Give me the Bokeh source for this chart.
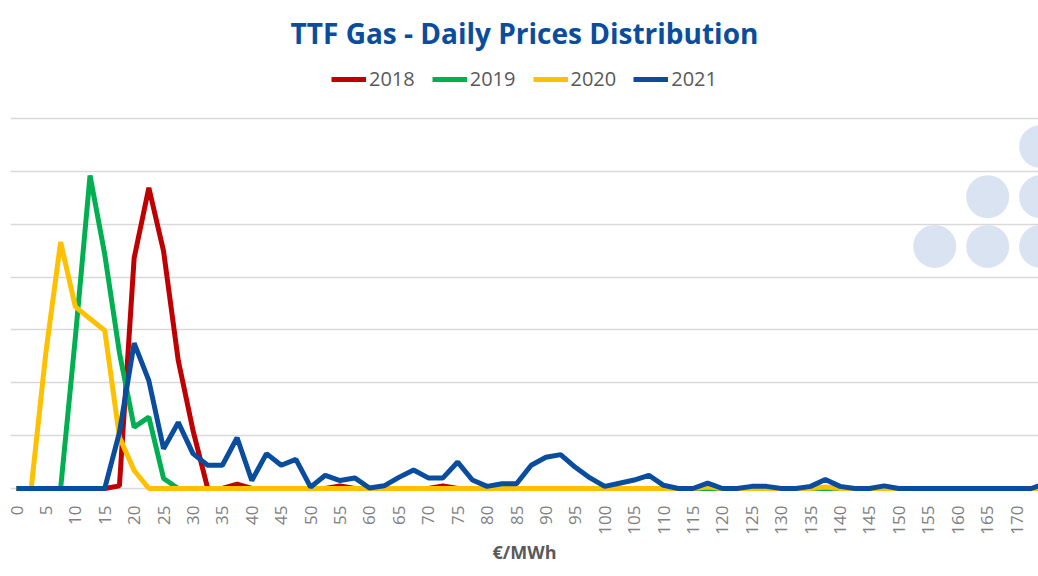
import math
from bokeh.plotting import figure
from bokeh.models import Range1d, FixedTicker, Legend, LegendItem
from bokeh.embed import file_html
from bokeh.resources import INLINE

# Price bins (EUR/MWh), step 2.5
prices = [0, 2.5, 5, 7.5, 10, 12.5, 15, 17.5, 20, 22.5, 25, 27.5, 30, 32.5, 35, 37.5,
          40, 42.5, 45, 47.5, 50, 52.5, 55, 57.5, 60, 62.5, 65, 67.5, 70, 72.5, 75, 77.5,
          80, 82.5, 85, 87.5, 90, 92.5, 95, 97.5, 100, 102.5, 105, 107.5, 110, 112.5, 115,
          117.5, 120, 122.5, 125, 127.5, 130, 132.5, 135, 137.5, 140, 142.5, 145, 147.5,
          150, 152.5, 155, 157.5, 160, 162.5, 165, 167.5, 170, 172.5, 175]

y2018 = [0, 0, 0, 0, 0, 0, 0, 0.5, 43.6, 56.9, 44.9, 24.2, 11.0, 0, 0, 0.8,
         0, 0, 0, 0, 0, 0, 0.5, 0, 0, 0, 0, 0, 0, 0.5, 0, 0,
         0, 0, 0, 0, 0, 0, 0, 0, 0, 0, 0, 0, 0, 0, 0,
         0, 0, 0, 0, 0, 0, 0, 0, 0, 0, 0, 0, 0,
         0, 0, 0, 0, 0, 0, 0, 0, 0, 0, 0]

y2019 = [0, 0, 0, 0, 28.5, 59.2, 44.3, 25.7, 11.6, 13.5, 1.9, 0, 0, 0, 0, 0,
         0, 0, 0, 0, 0, 0, 0, 0, 0, 0, 0, 0, 0, 0, 0, 0,
         0, 0, 0, 0, 0, 0, 0, 0, 0, 0, 0, 0, 0, 0, 0,
         0, 0, 0, 0, 0, 0, 0, 0, 0, 0, 0, 0, 0,
         0, 0, 0, 0, 0, 0, 0, 0, 0, 0, 0]

y2020 = [0, 0, 25.8, 46.6, 34.4, 32.1, 29.9, 9.7, 3.4, 0, 0, 0, 0, 0, 0, 0,
         0, 0, 0, 0, 0, 0, 0, 0, 0, 0, 0, 0, 0, 0, 0, 0,
         0, 0, 0, 0, 0, 0, 0, 0, 0, 0, 0, 0, 0, 0, 0,
         0.3, 0, 0, 0, 0, 0, 0, 0, 0.3, 0, 0, 0, 0,
         0, 0, 0, 0, 0, 0, 0, 0, 0, 0, 0]

y2021 = [0, 0, 0, 0, 0, 0, 0, 10.6, 27.5, 20.4, 7.5, 12.5, 6.6, 4.4, 4.4, 9.6,
         1.5, 6.6, 4.4, 5.5, 0.25, 2.5, 1.5, 2.0, 0.1, 0.5, 2.1, 3.5, 2.0, 2.0, 5.0, 1.6,
         0.4, 0.9, 0.9, 4.4, 5.9, 6.4, 4.0, 2.0, 0.4, 1.0, 1.6, 2.5, 0.6, 0, 0,
         1.0, 0, 0, 0.4, 0.4, 0, 0, 0.4, 1.7, 0.4, 0, 0, 0.5,
         0, 0, 0, 0, 0, 0, 0, 0, 0, 0, 1.0]

series_names = ["2018", "2019", "2020", "2021"]
series_values = [y2018, y2019, y2020, y2021]
series_colors = ["#c00000", "#00b050", "#ffc000", "#0a4d9e"]

x_ticks = [0, 5, 10, 15, 20, 25, 30, 35, 40, 45, 50, 55, 60, 65, 70, 75, 80, 85,
           90, 95, 100, 105, 110, 115, 120, 125, 130, 135, 140, 145, 150, 155, 160,
           165, 170]
y_grid = [0, 10, 20, 30, 40, 50, 60, 70]

# decorative watermark dots (upper right)
dots_x = [156.1, 165.1, 174.1, 165.1, 174.1, 174.1]
dots_y = [45.8, 45.8, 45.8, 55.2, 55.2, 64.7]

p = figure(output_backend="svg", toolbar_location=None,
           width=1038, height=576,
           x_range=Range1d(-1.02, 173.74), y_range=Range1d(-0.57, 80.97),
           min_border_left=10, min_border_right=0, min_border_top=60,
           min_border_bottom=85)

p.outline_line_color = None
p.yaxis.visible = False
p.xgrid.visible = False
p.ygrid.ticker = FixedTicker(ticks=y_grid)
p.ygrid.grid_line_color = "#d9d9d9"
p.ygrid.grid_line_width = 1.5

p.scatter(dots_x, dots_y, size=43, fill_color="#dae3f1", line_color=None)

items = []
for name, vals, col in zip(series_names, series_values, series_colors):
    r = p.line(prices, vals, line_color=col, line_width=5)
    items.append(LegendItem(label=name, renderers=[r]))

ax = p.xaxis[0]
ax.ticker = FixedTicker(ticks=x_ticks)
ax.major_label_orientation = math.pi / 2
ax.major_tick_line_color = None
ax.minor_tick_line_color = None
ax.axis_line_color = None
ax.major_label_standoff = 8
ax.major_label_text_font = "Open Sans"
ax.major_label_text_font_size = "17px"
ax.major_label_text_color = "#808080"
ax.axis_label = "€/MWh"
ax.axis_label_text_font = "Open Sans"
ax.axis_label_text_font_style = "bold"
ax.axis_label_text_font_size = "18px"
ax.axis_label_text_color = "#595959"
ax.axis_label_standoff = 2

legend = Legend(items=items, orientation="horizontal", location="top_center",
                glyph_width=35, label_standoff=3, spacing=17, padding=0, margin=5,
                border_line_color=None, background_fill_alpha=0,
                label_text_font="Open Sans", label_text_font_size="20px",
                label_text_color="#595959")
p.add_layout(legend)

p.title.text = "TTF Gas - Daily Prices Distribution"
p.title.align = "center"
p.title.text_font = "Open Sans"
p.title.text_font_style = "bold"
p.title.text_font_size = "28px"
p.title.text_color = "#0a4d9e"
p.title.standoff = 17

open("out.html", "w").write(file_html(p, INLINE))
